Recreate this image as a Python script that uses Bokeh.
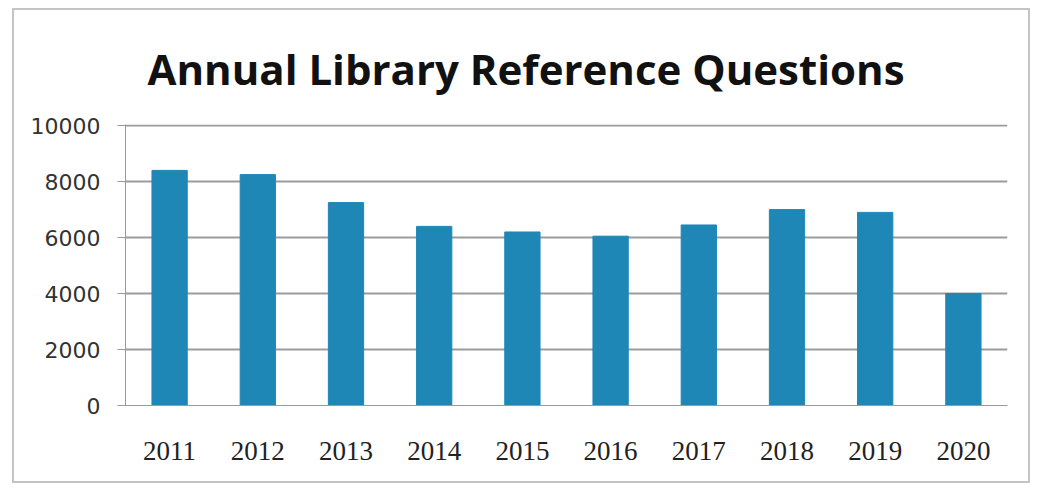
from bokeh.plotting import figure
from bokeh.models import Range1d, FactorRange
from bokeh.embed import file_html
from bokeh.resources import INLINE

years = ["2011", "2012", "2013", "2014", "2015", "2016", "2017", "2018", "2019", "2020"]
questions = [8400, 8250, 7250, 6400, 6200, 6050, 6450, 7000, 6900, 4000]
y_ticks = [0, 2000, 4000, 6000, 8000, 10000]

p = figure(
    width=1018, height=475,
    x_range=FactorRange(*years, range_padding=0.0),
    y_range=Range1d(0, 10040),
    output_backend="svg", toolbar_location=None,
    title="Annual Library Reference Questions",
    min_border_left=111, min_border_right=25, min_border_top=114, min_border_bottom=80,
)
p.margin = (8, 0, 0, 12)
p.styles = {"border": "2px solid #c4c4c4"}

p.vbar(x=years, top=questions, width=0.4, color="#1f87b6")

p.title.align = "left"
p.title.text_font = "Open Sans"
p.title.text_font_size = "42px"
p.title.text_font_style = "bold"
p.title.text_color = "#111111"
p.title.standoff = 55
p.title.offset = 22

p.yaxis.ticker = y_ticks
p.yaxis.major_label_text_font = "DejaVu Sans"
p.yaxis.major_label_text_font_size = "22px"
p.yaxis.major_label_text_color = "#333333"
p.yaxis.axis_line_color = "#9a9a9a"
p.yaxis.major_tick_line_color = "#9a9a9a"
p.yaxis.major_tick_out = 8
p.yaxis.major_tick_in = 0
p.yaxis.minor_tick_line_color = None
p.yaxis.major_label_standoff = 17

p.xaxis.major_label_text_font = "Liberation Serif"
p.xaxis.major_label_text_font_size = "27px"
p.xaxis.major_label_text_color = "#222222"
p.xaxis.axis_line_color = "#9a9a9a"
p.xaxis.major_tick_line_color = None
p.xaxis.major_label_standoff = 30

p.xgrid.grid_line_color = None
p.ygrid.grid_line_color = "#9c9c9c"
p.ygrid.grid_line_width = 2
p.outline_line_color = None
p.background_fill_color = "white"
p.border_fill_color = "white"

open("out.html", "w").write(file_html(p, INLINE))
